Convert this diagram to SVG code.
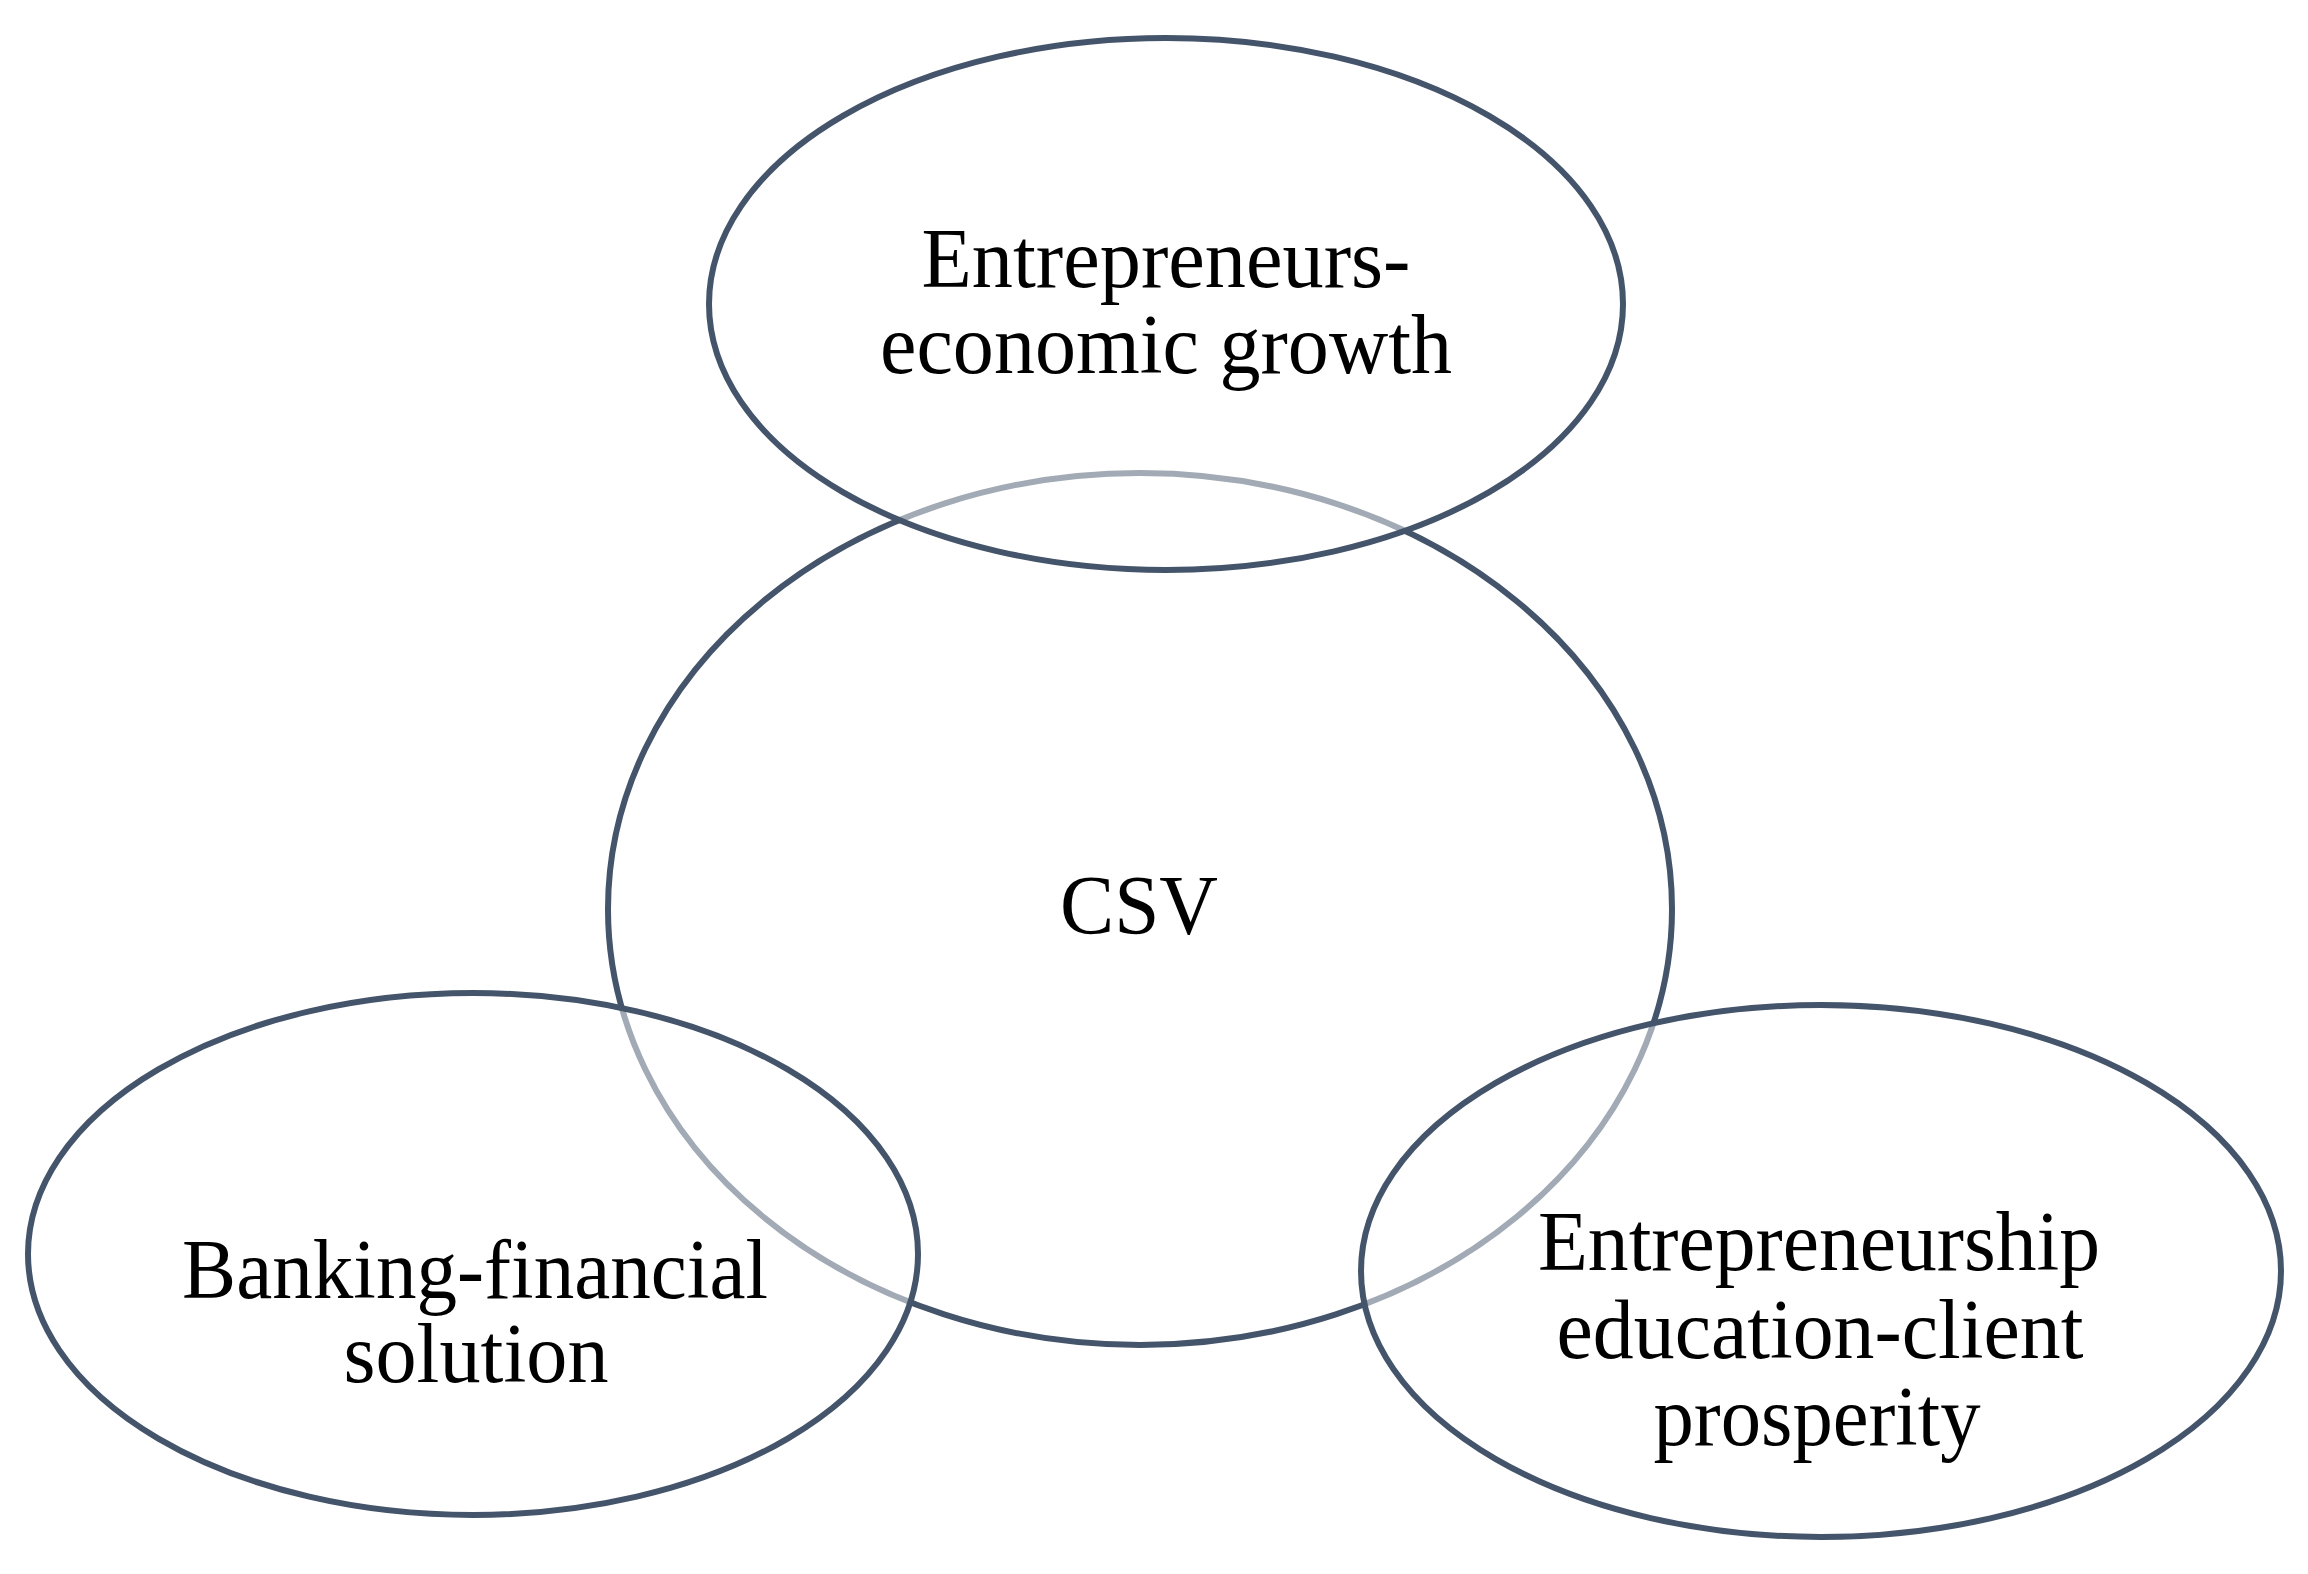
<svg xmlns="http://www.w3.org/2000/svg" width="2308" height="1574" viewBox="0 0 2308 1574">
<style>
.ring{stroke:#44546a;stroke-width:6}
.core{fill:#ffffff}
.outer{fill:#ffffff;fill-opacity:0.5}
.lbl{font-family:"Liberation Serif","Times New Roman",serif;font-size:84px;fill:#000000;text-anchor:middle}
</style>
<rect width="2308" height="1574" fill="#ffffff"/>
<g id="node-csv">
<ellipse class="ring core" cx="1140" cy="909" rx="532" ry="436"/>
<text class="lbl" x="1139" y="934" textLength="158" lengthAdjust="spacingAndGlyphs">CSV</text>
</g>
<g id="node-top">
<ellipse class="ring outer" cx="1166" cy="304" rx="457" ry="266"/>
<text class="lbl" x="1166" y="287" textLength="489" lengthAdjust="spacingAndGlyphs">Entrepreneurs-</text>
<text class="lbl" x="1166" y="373" textLength="572" lengthAdjust="spacingAndGlyphs">economic growth</text>
</g>
<g id="node-left">
<ellipse class="ring outer" cx="473" cy="1254" rx="445" ry="261"/>
<text class="lbl" x="475" y="1298" textLength="586" lengthAdjust="spacingAndGlyphs">Banking-financial</text>
<text class="lbl" x="476" y="1382" textLength="265" lengthAdjust="spacingAndGlyphs">solution</text>
</g>
<g id="node-right">
<ellipse class="ring outer" cx="1821" cy="1271" rx="460" ry="266"/>
<text class="lbl" x="1819" y="1270" textLength="562" lengthAdjust="spacingAndGlyphs">Entrepreneurship</text>
<text class="lbl" x="1820" y="1358" textLength="527" lengthAdjust="spacingAndGlyphs">education-client</text>
<text class="lbl" x="1817" y="1445" textLength="327" lengthAdjust="spacingAndGlyphs">prosperity</text>
</g>
<g id="connectors"></g>
</svg>
